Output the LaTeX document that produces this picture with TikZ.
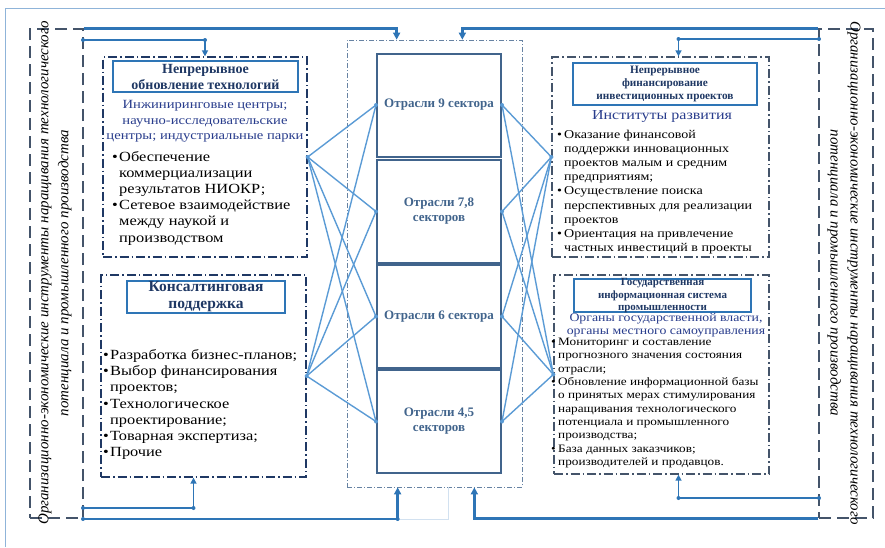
\documentclass[tikz,border=0pt]{standalone}
\usepackage{fontspec}
\setmainfont{Liberation Serif}
\newfontfamily\wideserif[FakeStretch=1.17]{Liberation Serif}
\usetikzlibrary{arrows.meta, positioning, calc}
\definecolor{frameblue}{RGB}{143,180,217}
\definecolor{linkblue}{RGB}{46,117,182}
\definecolor{crossblue}{RGB}{91,155,213}
\definecolor{navy}{RGB}{31,56,100}
\definecolor{slate}{RGB}{68,84,106}
\definecolor{steel}{RGB}{65,100,140}
\definecolor{subnavy}{RGB}{40,60,140}
\newcommand{\bul}{\makebox[7pt][l]{\textbullet}}
\newcommand{\ind}{\hspace*{7pt}}

\begin{document}
\begin{tikzpicture}[x=1pt, y=-1pt,
    frame/.style={draw=frameblue, line width=0.8pt},
    sidebox/.style={draw=slate, line width=1.1pt, dash pattern=on 12pt off 6pt},
    sidetext/.style={align=center, inner sep=0pt, font=\itshape\fontsize{15}{20}\selectfont},
    grpA/.style={draw=navy, line width=1.3pt, dash pattern=on 9pt off 3pt on 1.5pt off 3pt},
    grpB/.style={draw=slate, line width=1.3pt, dash pattern=on 9pt off 3pt on 1.5pt off 3pt},
    titlebox/.style={draw=linkblue, line width=1.8pt, align=center, text=navy, inner sep=0pt},
    subtext/.style={align=center, inner sep=0pt, text=subnavy},
    listtext/.style={align=left, inner sep=0pt, anchor=west},
    midbox/.style={draw=steel!80, line width=0.7pt, dash pattern=on 5pt off 2pt on 1pt off 2pt},
    sector/.style={draw=steel, line width=2pt, minimum width=124pt, minimum height=103pt, align=center, text=steel, font=\bfseries\fontsize{13}{15}\selectfont},
    bus/.style={draw=linkblue, line width=2.4pt, -{Triangle[width=7pt,length=7pt]}},
    link/.style={draw=linkblue, line width=1.5pt, -{Triangle[width=6pt,length=6pt]}},
    cross/.style={draw=crossblue, line width=1.4pt},
    faint/.style={draw=frameblue!40, line width=0.8pt}
]
\useasboundingbox (0,0) rectangle (885,547);
% outer frame
\draw[frame] (5,547) -- (5,8) -- (885,8);

% side labels
\node[sidebox, minimum width=53pt, minimum height=489pt] (lside) at (56.5,273.5) {};
\node[sidetext, rotate=90] (ltext) at (55,273) {Организационно-экономические инструменты наращивания технологического\\потенциала и промышленного производства};
\node[sidebox, minimum width=54pt, minimum height=489pt] (rside) at (846,273.5) {};
\node[sidetext, rotate=-90] (rtext) at (844,273) {Организационно-экономические инструменты наращивания технологического\\потенциала и промышленного производства};

% left groups
\node[grpA, minimum width=204pt, minimum height=200pt] (tech) at (205,157) {};
\node[titlebox, minimum width=185pt, minimum height=31pt, font=\bfseries\fontsize{14}{16}\selectfont] (ttech) at (205.5,76.5) {Непрерывное\\обновление технологий};
\node[subtext, font=\wideserif\fontsize{12.5}{15.5}\selectfont] (stech) at (205,121.5) {Инжиниринговые центры;\\научно-исследовательские\\центры; индустриальные парки};
\node[listtext, font=\wideserif\fontsize{14}{16.2}\selectfont] (ltech) at (112,198) {\bul Обеспечение\\\ind коммерциализации\\\ind результатов НИОКР;\\\bul Сетевое взаимодействие\\\ind между наукой и\\\ind производством};

\node[grpA, minimum width=205pt, minimum height=202pt] (cons) at (203.5,376) {};
\node[titlebox, minimum width=158pt, minimum height=32pt, font=\bfseries\fontsize{15.5}{17}\selectfont] (tcons) at (206,297) {Консалтинговая\\поддержка};
\node[listtext, font=\wideserif\fontsize{14}{16.2}\selectfont] (lcons) at (103,404.5) {\bul Разработка бизнес-планов;\\\bul Выбор финансирования\\\ind проектов;\\\bul Технологическое\\\ind проектирование;\\\bul Товарная экспертиза;\\\bul Прочие};

% right groups
\node[grpB, minimum width=217pt, minimum height=200pt] (fin) at (660.5,157) {};
\node[titlebox, minimum width=184pt, minimum height=42pt, font=\bfseries\fontsize{11.3}{13}\selectfont] (tfin) at (665,84) {Непрерывное\\финансирование\\инвестиционных проектов};
\node[subtext, font=\wideserif\fontsize{13.7}{16}\selectfont] (sfin) at (662,116) {Институты развития};
\node[listtext, font=\wideserif\fontsize{12}{14.2}\selectfont] (lfin) at (557,192) {\bul Оказание финансовой\\\ind поддержки инновационных\\\ind проектов малым и средним\\\ind предприятиям;\\\bul Осуществление поиска\\\ind перспективных для реализации\\\ind проектов\\\bul Ориентация на привлечение\\\ind частных инвестиций в проекты};

\node[grpB, minimum width=215pt, minimum height=199pt] (gis) at (661.5,374.5) {};
\node[titlebox, minimum width=177pt, minimum height=33pt] (tgis) at (662.5,295.5) {};
\node[subtext, text=navy, font=\bfseries\fontsize{11}{12.5}\selectfont] (tgistext) at (662.5,296) {Государственная\\информационная система\\промышленности};
\node[subtext, font=\wideserif\fontsize{11.8}{13}\selectfont] (sgis) at (666,325) {Органы государственной власти,\\органы местного самоуправления};
\node[listtext, font=\wideserif\fontsize{11.3}{13.3}\selectfont] (lgis) at (551,403) {\bul Мониторинг и составление\\\ind прогнозного значения состояния\\\ind отрасли;\\\bul Обновление информационной базы\\\ind о принятых мерах стимулирования\\\ind наращивания технологического\\\ind потенциала и промышленного\\\ind производства;\\\bul База данных заказчиков;\\\ind производителей и продавцов.};

% sectors
\node[midbox, minimum width=175pt, minimum height=447pt] (mid) at (434.5,263.5) {};
\node[sector] (s9) at (439,105) {Отрасли 9 сектора};
\node[sector] (s78) at (439,211.5) {Отрасли 7,8\\секторов};
\node[sector] (s6) at (439,316.5) {Отрасли 6 сектора};
\node[sector] (s45) at (439,421.5) {Отрасли 4,5\\секторов};

% feedback lines
\coordinate (lj1) at (83,40);
\coordinate (lj2) at (83,508);
\coordinate (lj3) at (83,519);
\coordinate (rj1) at (819,39);
\coordinate (rj2) at (819,498);
\coordinate (ba) at ([xshift=51pt]mid.south west);
\draw[faint] (ba |- lj3) -| ([xshift=102pt]mid.south west);
\draw[bus] (lside.north east) -| ([xshift=50pt]mid.north west);
\draw[bus] (lj3) -| (ba);
\draw[bus] (rside.north west) -| ([xshift=-60pt]mid.north east);
\draw[bus] (rside.south west) -| ([xshift=-48pt]mid.south east);
\draw[link] (lj1) -| (tech.north);
\draw[link] (lj2) -| ([xshift=-10pt]cons.south);
\draw[link] (rj1) -| ([xshift=18pt]fin.north);
\draw[link] (rj2) -| ([xshift=17pt]gis.south);
\foreach \p in {lj1, lj2, lj3, rj1, rj2}
    \fill[linkblue] (\p) circle (2pt);
\fill[linkblue] (lj1 -| tech.north) circle (2pt) ([xshift=-10pt]cons.south |- lj2) circle (2pt)
    (ba |- lj3) circle (2pt);
\fill[linkblue] ([xshift=18pt]fin.north |- rj1) circle (2pt) ([xshift=17pt]gis.south |- rj2) circle (2pt);

% links to sectors
\foreach \s in {s9, s78, s6, s45} {
    \draw[cross] (tech.east) -- (\s.west);
    \draw[cross] (cons.east) -- (\s.west);
    \draw[cross] (fin.west) -- (\s.east);
    \draw[cross] (gis.west) -- (\s.east);
    \fill[crossblue] (\s.west) circle (2pt) (\s.east) circle (2pt);
}
\fill[crossblue] (tech.east) circle (2pt) (cons.east) circle (2pt) (fin.west) circle (2pt) (gis.west) circle (2pt);
\end{tikzpicture}
\end{document}
